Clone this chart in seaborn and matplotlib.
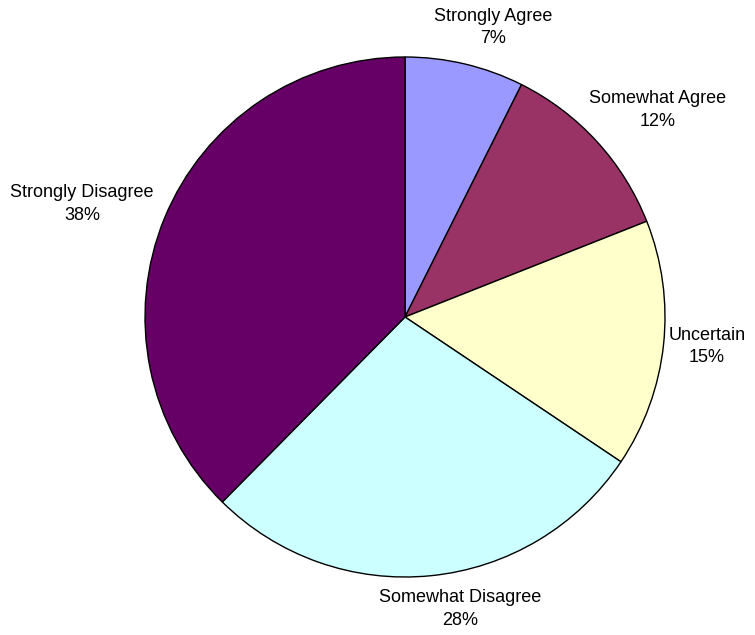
import matplotlib
matplotlib.use("Agg")
import matplotlib.pyplot as plt
import seaborn as sns

# Survey response shares (%)
categories = ["Strongly Agree", "Somewhat Agree", "Uncertain",
              "Somewhat Disagree", "Strongly Disagree"]
shares = [7.4, 11.6, 15.4, 28.0, 37.6]
colors = ["#9999FF", "#993366", "#FFFFCC", "#CCFFFF", "#660066"]

sns.set_style("white")
plt.rcParams["font.family"] = ["Liberation Sans", "DejaVu Sans"]

fig = plt.figure(figsize=(7.55, 6.35), dpi=100)
# pie centre at (405, 317) px, radius 260 px
ax = fig.add_axes([(405 - 260) / 755, (318 - 260) / 635, 520 / 755, 520 / 635])

labels = [f"{c}\n{round(s)}%" for c, s in zip(categories, shares)]
wedges, texts = ax.pie(shares, labels=labels, colors=colors, startangle=90,
                       counterclock=False, labeldistance=1.15,
                       wedgeprops=dict(edgecolor="black", linewidth=1.0),
                       textprops=dict(fontsize=13, linespacing=1.4, color="black"))

# label centres, in pie-radius units (Excel-style outside labels)
label_pos = [(0.338, 1.112), (0.973, 0.796), (1.162, -0.115),
             (0.212, -1.123), (-1.242, 0.435)]
for t, (x, y) in zip(texts, label_pos):
    t.set_position((x, y))
    t.set_horizontalalignment("center")
    t.set_verticalalignment("center")
    t.set_multialignment("center")

ax.set_xlim(-1, 1)
ax.set_ylim(-1, 1)
ax.set_aspect("equal")
ax.axis("off")

fig.savefig("out.png", dpi=100)
